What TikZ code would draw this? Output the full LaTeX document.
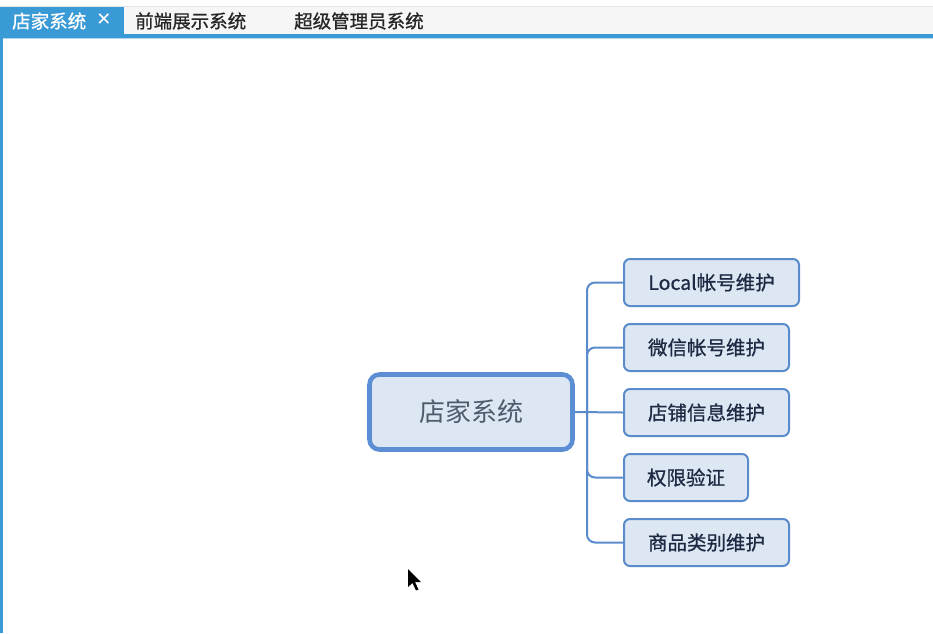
\documentclass[tikz,border=0pt]{standalone}
\usepackage{fontspec}
\setmainfont{Noto Sans CJK SC}
\newfontfamily\medfont[FakeBold=0.9]{Noto Sans CJK SC}
\newfontfamily\symfont{DejaVu Sans}
\usetikzlibrary{calc}
\definecolor{tabblue}{HTML}{3A9AD6}
\definecolor{barbg}{HTML}{F6F6F6}
\definecolor{nodeborder}{HTML}{5A8BCB}
\definecolor{mainborder}{HTML}{5B8ED3}
\definecolor{nodefill}{HTML}{DDE7F3}
\definecolor{maintext}{HTML}{4E5B6D}
\definecolor{childtext}{HTML}{1E2A44}
\tikzset{
  mainbox/.style={draw=mainborder, fill=nodefill, line width=4.6pt, rounded corners=10pt,
    minimum width=203pt, minimum height=75pt, inner sep=0pt,
    font=\fontsize{26}{30}\selectfont, text=maintext},
  childbox/.style={draw=nodeborder, fill=nodefill, line width=2pt, rounded corners=6pt,
    minimum height=47pt, inner sep=0pt,
    font=\medfont\fontsize{19.5}{23}\selectfont, text=childtext},
  conn/.style={draw=nodeborder, line width=2pt, rounded corners=8pt},
  tabtext/.style={font=\medfont\fontsize{18.5}{21}\selectfont, inner sep=0pt, anchor=west}
}
\begin{document}
\begin{tikzpicture}[x=1pt,y=-1pt]
\useasboundingbox (0,0) rectangle (933,633);
% tab bar
\fill[barbg] (0,0) rectangle (933,35);
\fill[white] (0,0) rectangle (933,6);
\draw[gray!20, line width=0.6pt] (0,6.5) -- (933,6.5);
\fill[tabblue] (0,7) rectangle (124,37);
\fill[tabblue] (0,34) rectangle (933,37.5);
\fill[tabblue!40] (0,37.5) rectangle (933,39);
\fill[tabblue] (0,34) rectangle (3,633);
\node[tabtext, text=white] (tab1) at (12,21) {店家系统};
\node[font=\symfont\fontsize{18}{20}\selectfont, text=white, inner sep=0pt] (tabx) at (104,20) {✕};
\node[tabtext, text=black!85] (tab2) at (135,21) {前端展示系统};
\node[tabtext, text=black!85] (tab3) at (294,21) {超级管理员系统};
% diagram
\node[mainbox] (main) at (471,412) {店家系统};
\node[childbox, minimum width=175pt] (c1) at (711.5,282.5) {Local帐号维护};
\node[childbox, minimum width=165pt] (c2) at (706.5,347.5) {微信帐号维护};
\node[childbox, minimum width=165pt] (c3) at (706.5,412.5) {店铺信息维护};
\node[childbox, minimum width=124pt] (c4) at (686,477.5) {权限验证};
\node[childbox, minimum width=165pt] (c5) at (706.5,542.5) {商品类别维护};
\coordinate (trunk) at (587,412);
\draw[conn] (main.east) -- (c3.west);
\draw[conn] (trunk) |- (c1.west);
\draw[conn] (trunk) |- (c2.west);
\draw[conn] (trunk) |- (c4.west);
\draw[conn] (trunk) |- (c5.west);
% mouse pointer
\fill[black] (408,569) -- (408,587) -- (412.5,583) -- (416,590.5) -- (418.5,589.5) -- (415,582) -- (421,582) -- cycle;
\end{tikzpicture}
\end{document}
